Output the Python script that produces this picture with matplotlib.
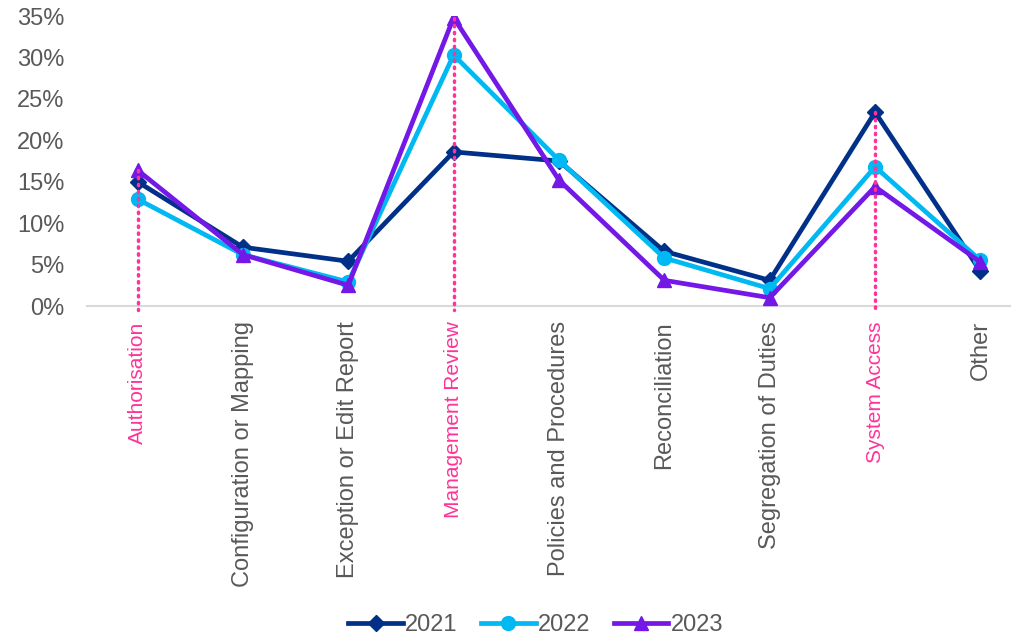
import numpy as np
import matplotlib.pyplot as plt

plt.rcParams['font.family'] = ['Liberation Sans', 'DejaVu Sans']

categories = ['Authorisation', 'Configuration or Mapping', 'Exception or Edit Report',
              'Management Review', 'Policies and Procedures', 'Reconciliation',
              'Segregation of Duties', 'System Access', 'Other']
v2021 = [15.0, 7.1, 5.4, 18.6, 17.5, 6.6, 3.1, 23.4, 4.2]
v2022 = [12.9, 6.2, 2.9, 30.3, 17.6, 5.8, 2.1, 16.8, 5.5]
v2023 = [16.4, 6.2, 2.5, 34.8, 15.2, 3.1, 1.0, 14.4, 5.3]
highlight = ['Authorisation', 'Management Review', 'System Access']

pink = '#FF3399'
grey = '#595959'

fig = plt.figure(figsize=(10.11, 6.41), dpi=100)
ax = fig.add_axes([0.086, 0.5226, 0.914, 0.4524])
x = np.arange(len(categories))

ax.plot(x, v2021, color='#003087', lw=3.4, marker='D', ms=8, label='2021', zorder=3)
ax.plot(x, v2022, color='#00B9F2', lw=3.4, marker='o', ms=10, label='2022', zorder=4)
ax.plot(x, v2023, color='#7318E6', lw=3.4, marker='^', ms=10, label='2023', zorder=5)

# pink dotted drop lines for the highlighted categories
for c in highlight:
    i = categories.index(c)
    top = max(v2021[i], v2022[i], v2023[i])
    ax.plot([i, i], [top, -0.5], color=pink, lw=2.5, ls=(0, (0.4, 1.6)),
            dash_capstyle='round', zorder=6, clip_on=False)

ax.set_xlim(-0.48, 8.29)
ax.set_ylim(0, 35)
ax.set_yticks(np.arange(0, 36, 5))
ax.set_yticklabels([f'{t}%' for t in range(0, 36, 5)])
ax.set_xticks(x)
ax.set_xticklabels(categories, rotation=90)
ax.tick_params(length=0, labelsize=17, colors=grey)
ax.tick_params(axis='x', pad=11)
ax.tick_params(axis='y', pad=16)
for lab, c in zip(ax.get_xticklabels(), categories):
    if c in highlight:
        lab.set_color(pink)
        lab.set_fontsize(15)

for s in ['top', 'right', 'left']:
    ax.spines[s].set_visible(False)
ax.spines['bottom'].set_color('#D9D9D9')
ax.spines['bottom'].set_linewidth(1.5)

fig.legend(loc='lower center', bbox_to_anchor=(0.53, -0.025), ncol=3, frameon=False,
           fontsize=17, labelcolor=grey, handlelength=2.3, handletextpad=0.1,
           columnspacing=1.0)

fig.savefig('out.png', dpi=100)
